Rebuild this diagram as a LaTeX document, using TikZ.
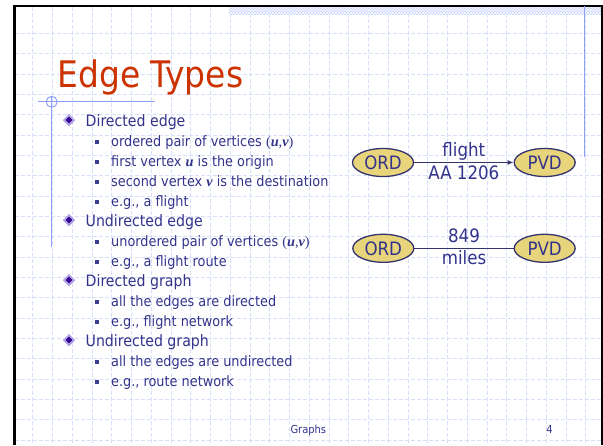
\documentclass[tikz,border=0pt]{standalone}
\usepackage{fontspec}
\setmainfont{DejaVu Sans Condensed}
\newfontfamily\tms{Liberation Serif}
\usetikzlibrary{shapes.geometric,arrows.meta,patterns}
\definecolor{txtblue}{RGB}{51,51,140}
\definecolor{titlered}{RGB}{204,51,0}
\definecolor{ellf}{RGB}{232,212,122}
\definecolor{ellb}{RGB}{51,51,110}
\definecolor{deco}{RGB}{140,160,245}
\definecolor{gridc}{RGB}{215,223,250}
\definecolor{hatchbg}{RGB}{200,212,250}
\definecolor{lav}{RGB}{150,130,225}
\definecolor{dpurple}{RGB}{55,10,150}
\definecolor{sqc}{RGB}{60,60,150}
\newcommand\mv[1]{{\tms\bfseries\itshape #1}}
\newcommand\dbul[1]{%
  \begin{scope}[shift={(69,{#1-6})}]
    \fill[lav] (0,-6)--(6,0)--(0,6)--(-6,0)--cycle;
    \fill[white!55!lav] (0,-4.8)--(4.8,0)--(0,4.8)--(-4.8,0)--cycle;
    \fill[dpurple] (0,-3.7)--(3.7,0)--(0,3.7)--(-3.7,0)--cycle;
  \end{scope}}
\newcommand\sbul[1]{\fill[sqc] (94.7,{#1-5.8}) rectangle (98.7,{#1-1.8});}
\begin{document}
\begin{tikzpicture}[x=1pt,y=-1pt,
  lone/.style={anchor=base west, inner sep=0, text=txtblue, font=\fontsize{15.7}{18}\selectfont},
  ltwo/.style={anchor=base west, inner sep=0, text=txtblue, font=\fontsize{14.3}{17}\selectfont},
  vert/.style={ellipse, draw=ellb, line width=1.3pt, fill=ellf, minimum width=61pt, minimum height=28pt, inner sep=0, text=txtblue, font=\fontsize{18.5}{20}\selectfont},
  conn/.style={draw=ellb, line width=1.1pt},
  labtop/.style={above, inner sep=1pt, text=txtblue, font=\fontsize{18.5}{20}\selectfont, text height=14pt, text depth=4.5pt},
  labbot/.style={below, inner sep=1pt, text=txtblue, font=\fontsize{18.5}{20}\selectfont, text height=15pt, text depth=4.5pt},
  foot/.style={anchor=base, inner sep=0, text=txtblue, font=\fontsize{11}{13}\selectfont}]
\useasboundingbox (0,0) rectangle (603,445);
\fill[white] (0,0) rectangle (603,445);
% grid
\foreach \i in {0,...,28}
  \draw[gridc, line width=0.6pt, dash pattern=on 4pt off 2pt] ({32.7+19.75*\i},7) -- ({32.7+19.75*\i},445);
\foreach \j in {0,...,20}
  \draw[gridc, line width=0.6pt, dash pattern=on 4pt off 2pt] (15,{33.3+20.33*\j}) -- (601,{33.3+20.33*\j});
% hatched band
\fill[hatchbg] (229,7) rectangle (600.7,14.5);
\fill[pattern=crosshatch, pattern color=white] (229,7) rectangle (600.7,14.5);
% slide border
\draw[black, line width=2.7pt] (14.6,4.8) -- (14.6,445);
\draw[black, line width=2pt] (13.2,6) -- (603,6);
\draw[black, line width=2pt] (601.8,5) -- (601.8,445);
% blue decorations
\draw[deco, line width=1.2pt] (38,101.8) -- (155,101.8);
\draw[deco, line width=1.2pt] (51.7,96.3) -- (51.7,247);
\draw[deco, line width=1pt] (51.7,101.8) circle (5.5);
\draw[deco, line width=1.2pt] (584.5,6) -- (584.5,157);
% title
\node[anchor=base west, inner sep=0, text=titlered, font=\fontsize{36.6}{40}\selectfont] (title) at (57.5,87.3) {Edge Types};
% bullets
\dbul{126}\node[lone] (a1) at (85.5,126) {Directed edge};
\sbul{146}\node[ltwo] (a2) at (111,146) {ordered pair of vertices {\tms(\mv{u},\mv{v})}};
\sbul{166}\node[ltwo] (a3) at (111,166) {first vertex \mv{u} is the origin};
\sbul{186}\node[ltwo] (a4) at (111,186) {second vertex \mv{v} is the destination};
\sbul{206}\node[ltwo] (a5) at (111,206) {e.g., a flight};
\dbul{226}\node[lone] (b1) at (85.5,226) {Undirected edge};
\sbul{246}\node[ltwo] (b2) at (111,246) {unordered pair of vertices {\tms(\mv{u},\mv{v})}};
\sbul{266}\node[ltwo] (b3) at (111,266) {e.g., a flight route};
\dbul{286}\node[lone] (c1) at (85.5,286) {Directed graph};
\sbul{306}\node[ltwo] (c2) at (111,306) {all the edges are directed};
\sbul{326}\node[ltwo] (c3) at (111,326) {e.g., flight network};
\dbul{346}\node[lone] (d1) at (85.5,346) {Undirected graph};
\sbul{366}\node[ltwo] (d2) at (111,366) {all the edges are undirected};
\sbul{386}\node[ltwo] (d3) at (111,386) {e.g., route network};
% diagram
\node[vert] (o1) at (383,162.5) {ORD};
\node[vert] (p1) at (544.7,162.5) {PVD};
\node[vert] (o2) at (383.3,248.3) {ORD};
\node[vert] (p2) at (544.7,248.3) {PVD};
\draw[conn, -{Latex[length=6pt,width=5pt]}] (o1) -- node[labtop] (l1) {flight} node[labbot] (l2) {AA 1206} (p1);
\draw[conn] (o2) -- node[labtop] (l3) {849} node[labbot] (l4) {miles} (p2);
% footer
\node[foot] (ft) at (308.3,433.3) {Graphs};
\node[foot] (pg) at (549.5,433.3) {4};
\end{tikzpicture}
\end{document}
